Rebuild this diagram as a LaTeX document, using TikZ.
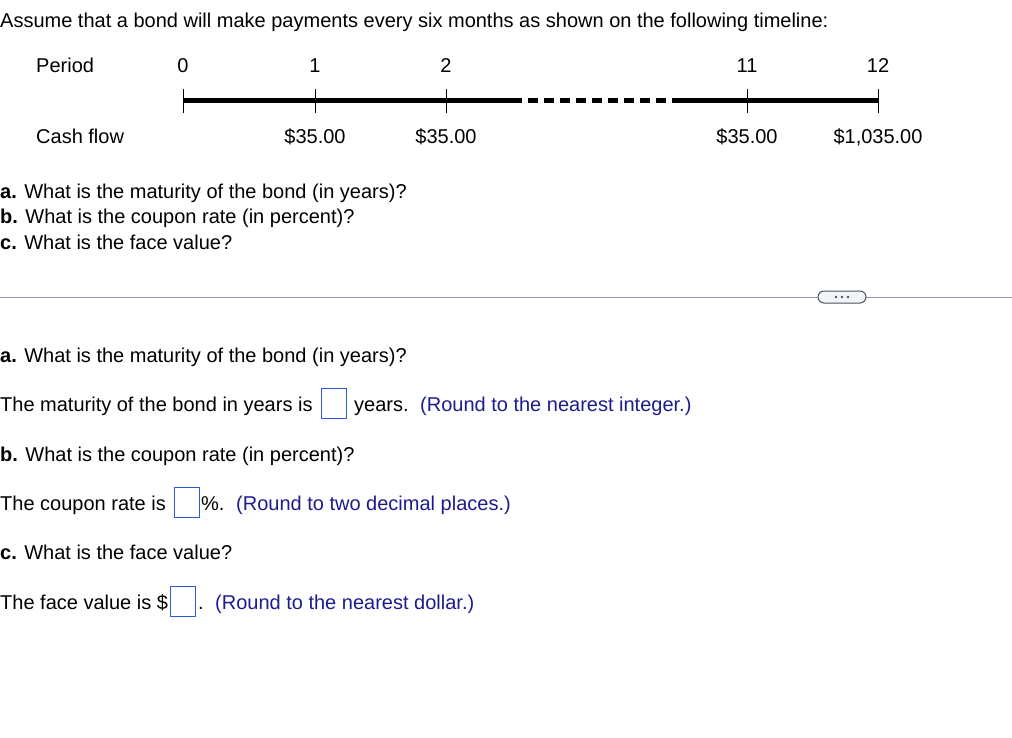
\documentclass[tikz,border=0pt]{standalone}
\usepackage{fontspec}
\setmainfont{Liberation Sans}
\definecolor{hintblue}{HTML}{1C1C8C}
\definecolor{boxblue}{HTML}{2A5BD7}
\definecolor{sepgray}{HTML}{8C96A6}
\definecolor{pillfill}{HTML}{F2F4F7}
\definecolor{pilldraw}{HTML}{4A5260}
\begin{document}
\begin{tikzpicture}[x=1pt,y=-1pt,
  txt/.style={anchor=base west,inner sep=0pt,font=\fontsize{20}{24}\selectfont},
  ctxt/.style={anchor=base,inner sep=0pt,font=\fontsize{20}{24}\selectfont},
  hint/.style={txt,text=hintblue},
  ansbox/.style={draw=boxblue,line width=1pt,minimum width=25pt,minimum height=30pt,inner sep=0pt,anchor=north west},
  axis/.style={line width=5pt},
  tick/.style={line width=1pt},
]
\useasboundingbox (0,0) rectangle (1012,738);
% title
\node[txt] (title) at (0,28) {Assume that a bond will make payments every six months as shown on the following timeline:};
% row labels
\node[txt] (period) at (36,73) {Period};
\node[txt] (cash) at (36,144) {Cash flow};
% timeline coordinates
\coordinate (p0) at (183,101);
\coordinate (p1) at (315,101);
\coordinate (p2) at (446,101);
\coordinate (p11) at (747,101);
\coordinate (p12) at (878,101);
\coordinate (d0) at (522,101);
\coordinate (d1) at (528,101);
\coordinate (d2) at (666,101);
\coordinate (d3) at (672,101);
\draw[axis] (p0) -- (d0);
\draw[axis,dash pattern=on 10pt off 6pt] (d1) -- (d2);
\draw[axis] (d3) -- (p12);
\foreach \p in {p0,p1,p2,p11,p12}{
  \draw[tick] ([yshift=-12pt]\p) -- ([yshift=12pt]\p);
}
% period labels
\node[ctxt] (l0) at (183,73) {0};
\node[ctxt] (l1) at (315,73) {1};
\node[ctxt] (l2) at (446,73) {2};
\node[ctxt] (l11) at (747,73) {11};
\node[ctxt] (l12) at (878,73) {12};
% cash flows
\node[ctxt] (c1) at (315,144) {\$35.00};
\node[ctxt] (c2) at (446,144) {\$35.00};
\node[ctxt] (c11) at (747,144) {\$35.00};
\node[ctxt] (c12) at (878,144) {\$1,035.00};
% questions
\node[txt] (qa) at (0,199) {\textbf{a.} What is the maturity of the bond (in years)?};
\node[txt] (qb) at (0,224) {\textbf{b.} What is the coupon rate (in percent)?};
\node[txt] (qc) at (0,249) {\textbf{c.} What is the face value?};
% separator
\coordinate (s0) at (0,297);
\coordinate (s1) at (1012,297);
\draw[sepgray,line width=1pt] (s0) -- (s1);
\node[draw=pilldraw,fill=pillfill,line width=1pt,rounded corners=6pt,minimum width=48pt,minimum height=12pt,inner sep=0pt] (pill) at (842,297) {};
\foreach \dx in {-6,0,6}{\fill[pilldraw] ([xshift=\dx pt]pill.center) circle (1.3pt);}
% answers
\node[txt] (aa) at (0,362) {\textbf{a.} What is the maturity of the bond (in years)?};
\node[txt] (ta1) at (0,411) {The maturity of the bond in years is};
\node[ansbox] (ba) at (321,388) {};
\node[txt] (ta2) at (354,411) {years.};
\node[hint] (ta3) at (420,411) {(Round to the nearest integer.)};
\node[txt] (ab) at (0,461) {\textbf{b.} What is the coupon rate (in percent)?};
\node[txt] (tb1) at (0,510) {The coupon rate is};
\node[ansbox] (bb) at (174,487) {};
\node[txt] (tb2) at (201,510) {\%.};
\node[hint] (tb3) at (236,510) {(Round to two decimal places.)};
\node[txt] (ac) at (0,559) {\textbf{c.} What is the face value?};
\node[txt] (tc1) at (0,609) {The face value is \$};
\node[ansbox] (bc) at (170,586) {};
\node[txt] (tc2) at (198,609) {.};
\node[hint] (tc3) at (215,609) {(Round to the nearest dollar.)};
\end{tikzpicture}
\end{document}
